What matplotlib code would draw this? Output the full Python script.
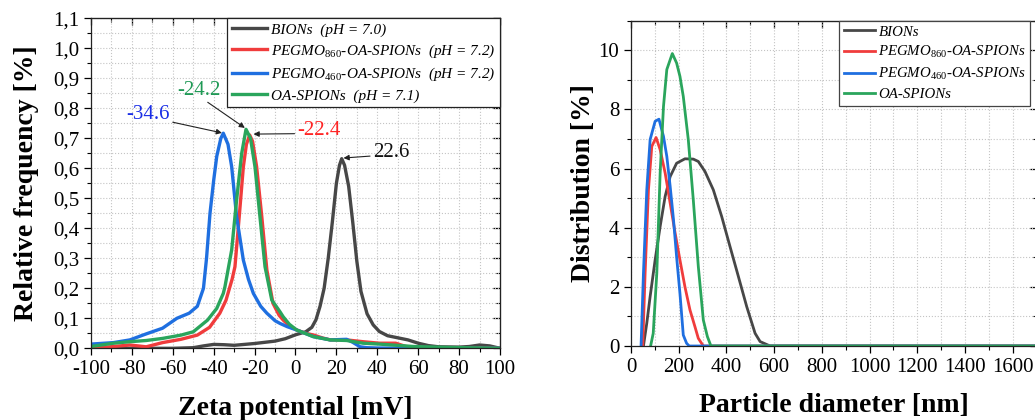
import numpy as np
import matplotlib
matplotlib.use('Agg')
import matplotlib.pyplot as plt
from matplotlib.ticker import MultipleLocator, FuncFormatter

plt.rcParams['font.family'] = ['Liberation Serif', 'DejaVu Serif']
plt.rcParams['mathtext.fontset'] = 'custom'
plt.rcParams['mathtext.rm'] = 'Liberation Serif'
plt.rcParams['mathtext.it'] = 'Liberation Serif:italic'
plt.rcParams['axes.unicode_minus'] = False

# ---- zeta potential data (mV, relative frequency) ----
zeta_bions_x = [-100, -80, -60, -50, -45, -40, -35, -30, -25, -20, -15, -10, -5, 0, 5, 8, 10, 12, 14,
                16, 18, 20, 21.5, 22.6, 24, 26, 28, 30, 32, 35, 38, 41, 45, 50, 55, 60, 65, 70, 80,
                85, 90, 95, 100]
zeta_bions_y = [0, 0, 0, 0.002, 0.008, 0.013, 0.012, 0.01, 0.013, 0.016, 0.02, 0.024, 0.032, 0.045,
                0.055, 0.07, 0.095, 0.14, 0.2, 0.3, 0.42, 0.55, 0.61, 0.632, 0.61, 0.54, 0.42, 0.29,
                0.19, 0.115, 0.078, 0.056, 0.042, 0.035, 0.028, 0.017, 0.009, 0.005, 0.004, 0.006,
                0.011, 0.008, 0.0]

zeta_p860_x = [-100, -89, -81, -73, -65, -56, -48, -42, -37, -34, -31, -29.6, -27.5, -25.5, -24,
               -22.4, -21, -19, -16.5, -14, -11, -8, -6, -3, 0.6, 5, 9, 13, 17, 25, 33, 41, 49, 54,
               60, 70, 100]
zeta_p860_y = [0, 0.006, 0.011, 0.005, 0.019, 0.03, 0.044, 0.07, 0.117, 0.16, 0.23, 0.272, 0.44,
               0.605, 0.68, 0.711, 0.69, 0.605, 0.44, 0.261, 0.15, 0.11, 0.094, 0.075, 0.061, 0.05,
               0.044, 0.035, 0.028, 0.028, 0.022, 0.017, 0.017, 0.006, 0.003, 0.001, 0]

zeta_p460_x = [-100, -89, -81, -73, -65, -58, -52, -48, -45, -43.5, -41.8, -40, -38.5, -36.5, -35.3,
               -33, -31.2, -28.8, -25.5, -23, -20.6, -17, -14, -10, -7.6, -4, 0.6, 8.7, 17, 25,
               28, 31.6, 35, 40, 60, 100]
zeta_p460_y = [0.014, 0.019, 0.028, 0.048, 0.067, 0.1, 0.117, 0.14, 0.2, 0.3, 0.45, 0.56, 0.64,
               0.7, 0.717, 0.68, 0.605, 0.44, 0.294, 0.23, 0.183, 0.14, 0.117, 0.092, 0.083, 0.072,
               0.061, 0.039, 0.028, 0.03, 0.02, 0.005, 0.002, 0.001, 0, 0]

zeta_oa_x = [-100, -89, -81, -73, -65, -56, -50, -43, -38.5, -35.3, -34.5, -31.2, -28.8, -26.3,
             -24.2, -22, -19.8, -17.4, -14.9, -11.6, -7.6, -6, -3, 0.6, 8.7, 17, 25, 33, 41, 49.5,
             57.6, 74, 100]
zeta_oa_y = [0.006, 0.017, 0.022, 0.026, 0.033, 0.044, 0.055, 0.094, 0.133, 0.183, 0.205, 0.328,
             0.494, 0.65, 0.73, 0.7, 0.605, 0.44, 0.272, 0.161, 0.122, 0.105, 0.08, 0.061, 0.039,
             0.028, 0.026, 0.017, 0.014, 0.01, 0.006, 0.003, 0]

# ---- particle size distribution (nm, %) ----
size_bions_x = [52, 66, 80, 101, 122, 143, 164, 191, 226, 261, 282, 310, 345, 380, 415, 450, 485,
                520, 541, 583, 1700]
size_bions_y = [0, 0.77, 1.67, 2.91, 4.04, 5.06, 5.73, 6.18, 6.33, 6.32, 6.24, 5.9, 5.28, 4.38,
                3.36, 2.35, 1.33, 0.43, 0.15, 0, 0]

size_p860_x = [49, 59, 73, 87, 105, 122, 143, 164, 185, 205, 226, 247, 268, 282, 303, 1700]
size_p860_y = [0, 2.46, 5.28, 6.75, 7.05, 6.64, 5.85, 4.83, 3.81, 2.91, 2.0, 1.22, 0.65, 0.26, 0, 0]

size_p460_x = [42, 52, 66, 80, 101, 117, 136, 150, 164, 178, 191, 205, 219, 233, 244, 1700]
size_p460_y = [0, 2.46, 5.28, 6.98, 7.6, 7.67, 7.09, 6.41, 5.4, 4.27, 3.02, 1.78, 0.37, 0.09, 0, 0]

size_oa_x = [82, 93, 108, 122, 136, 150, 173, 191, 205, 219, 240, 261, 282, 303, 320, 335, 1700]
size_oa_y = [0, 0.43, 2.46, 5.85, 8.1, 9.35, 9.89, 9.57, 9.12, 8.44, 6.98, 4.94, 2.69, 0.88, 0.32,
             0, 0]

labels_zeta = ['BIONs  (pH = 7.0)',
               r'PEGMO$_{\mathit{860}}$-OA-SPIONs  (pH = 7.2)',
               r'PEGMO$_{\mathit{460}}$-OA-SPIONs  (pH = 7.2)',
               'OA-SPIONs  (pH = 7.1)']
labels_size = ['BIONs',
               r'PEGMO$_{\mathit{860}}$-OA-SPIONs',
               r'PEGMO$_{\mathit{460}}$-OA-SPIONs',
               'OA-SPIONs']
colors = ['#474747', '#f03c3c', '#1f6fe0', '#2aa55c']


def style_axes(ax, xmaj, xmin, ymaj, ymin):
    ax.xaxis.set_major_locator(MultipleLocator(xmaj))
    ax.xaxis.set_minor_locator(MultipleLocator(xmin))
    ax.yaxis.set_major_locator(MultipleLocator(ymaj))
    ax.yaxis.set_minor_locator(MultipleLocator(ymin))
    ax.grid(which='both', linestyle=':', color='#c4c4c4', linewidth=0.8)
    ax.set_axisbelow(True)
    ax.tick_params(which='major', direction='out', length=5, width=0.9, labelsize=15)
    ax.tick_params(which='minor', direction='out', length=3, width=0.8)
    for s in ax.spines.values():
        s.set_linewidth(0.9)
        s.set_color('#222222')
    top = ax.secondary_xaxis('top')
    top.xaxis.set_major_locator(MultipleLocator(xmaj))
    top.xaxis.set_minor_locator(MultipleLocator(xmin))
    top.tick_params(which='major', direction='in', length=5, width=0.9, labeltop=False)
    top.tick_params(which='minor', direction='in', length=3, width=0.8)
    right = ax.secondary_yaxis('right')
    right.yaxis.set_major_locator(MultipleLocator(ymaj))
    right.yaxis.set_minor_locator(MultipleLocator(ymin))
    right.tick_params(which='major', direction='in', length=5, width=0.9, labelright=False)
    right.tick_params(which='minor', direction='in', length=3, width=0.8)


fig = plt.figure(figsize=(10.35, 4.2), dpi=100)
ax1 = fig.add_axes([0.0879, 0.1707, 0.3952, 0.7857])
ax2 = fig.add_axes([0.6097, 0.1762, 0.3918, 0.7745])

# left: zeta potential
zx = [zeta_bions_x, zeta_p860_x, zeta_p460_x, zeta_oa_x]
zy = [zeta_bions_y, zeta_p860_y, zeta_p460_y, zeta_oa_y]
for x, y, c, lab in zip(zx, zy, colors, labels_zeta):
    ax1.plot(x, y, color=c, lw=2.4, label=lab)
ax1.set_xlim(-100, 100)
ax1.set_ylim(0, 1.1)
style_axes(ax1, 20, 10, 0.1, 0.05)
ax1.yaxis.set_major_formatter(FuncFormatter(lambda v, p: f'{v:.1f}'.replace('.', ',')))
ax1.set_xlabel('Zeta potential [mV]', fontsize=20, fontweight='bold', labelpad=12)
ax1.set_ylabel('Relative frequency [%]', fontsize=20, fontweight='bold', labelpad=10)

arrow = dict(arrowstyle='-|>', color='#222222', lw=0.8, mutation_scale=8, shrinkA=0, shrinkB=1)
ax1.annotate('-34.6', xy=(-35.3, 0.717), xytext=(-72, 0.781), color='#1a2ee6', fontsize=15,
             ha='center', va='center', arrowprops=dict(arrow, relpos=(1.0, 0.1)))
ax1.annotate('-24.2', xy=(-24.2, 0.732), xytext=(-47, 0.861), color='#1f9955', fontsize=15,
             ha='center', va='center', arrowprops=dict(arrow, relpos=(0.6, 0.0)))
ax1.annotate('-22.4', xy=(-21.2, 0.714), xytext=(11.5, 0.725), color='#ff2424', fontsize=15,
             ha='center', va='center', arrowprops=dict(arrow, relpos=(0.0, 0.35)))
ax1.annotate('22.6', xy=(22.8, 0.634), xytext=(46.7, 0.654), color='#111111', fontsize=15,
             ha='center', va='center', arrowprops=dict(arrow, relpos=(0.0, 0.3)))

leg1 = ax1.legend(loc='upper right', borderaxespad=0, fancybox=False, framealpha=1,
                  edgecolor='#222222', handlelength=2.3, handletextpad=0.25, labelspacing=0.38,
                  borderpad=0.3, prop={'family': 'Liberation Serif', 'style': 'italic', 'size': 11})
leg1.get_frame().set_linewidth(0.9)

# right: size distribution
sx = [size_bions_x, size_p860_x, size_p460_x, size_oa_x]
sy = [size_bions_y, size_p860_y, size_p460_y, size_oa_y]
for x, y, c, lab in zip(sx, sy, colors, labels_size):
    ax2.plot(x, y, color=c, lw=2.0, label=lab)
ax2.set_xlim(0, 1700)
ax2.set_ylim(0, 11)
style_axes(ax2, 200, 100, 2, 1)
ax2.set_xlabel('Particle diameter [nm]', fontsize=20, fontweight='bold', labelpad=12)
ax2.set_ylabel('Distribution [%]', fontsize=20, fontweight='bold', labelpad=2)

leg2 = ax2.legend(loc='upper left', bbox_to_anchor=(0.513, 1.0), borderaxespad=0, fancybox=False,
                  framealpha=1, edgecolor='#444444', handlelength=2.1, handletextpad=0.25,
                  labelspacing=0.38, borderpad=0.3,
                  prop={'family': 'Liberation Serif', 'style': 'italic', 'size': 10.7})
leg2.get_frame().set_linewidth(0.9)

fig.savefig('out.png', dpi=100)
